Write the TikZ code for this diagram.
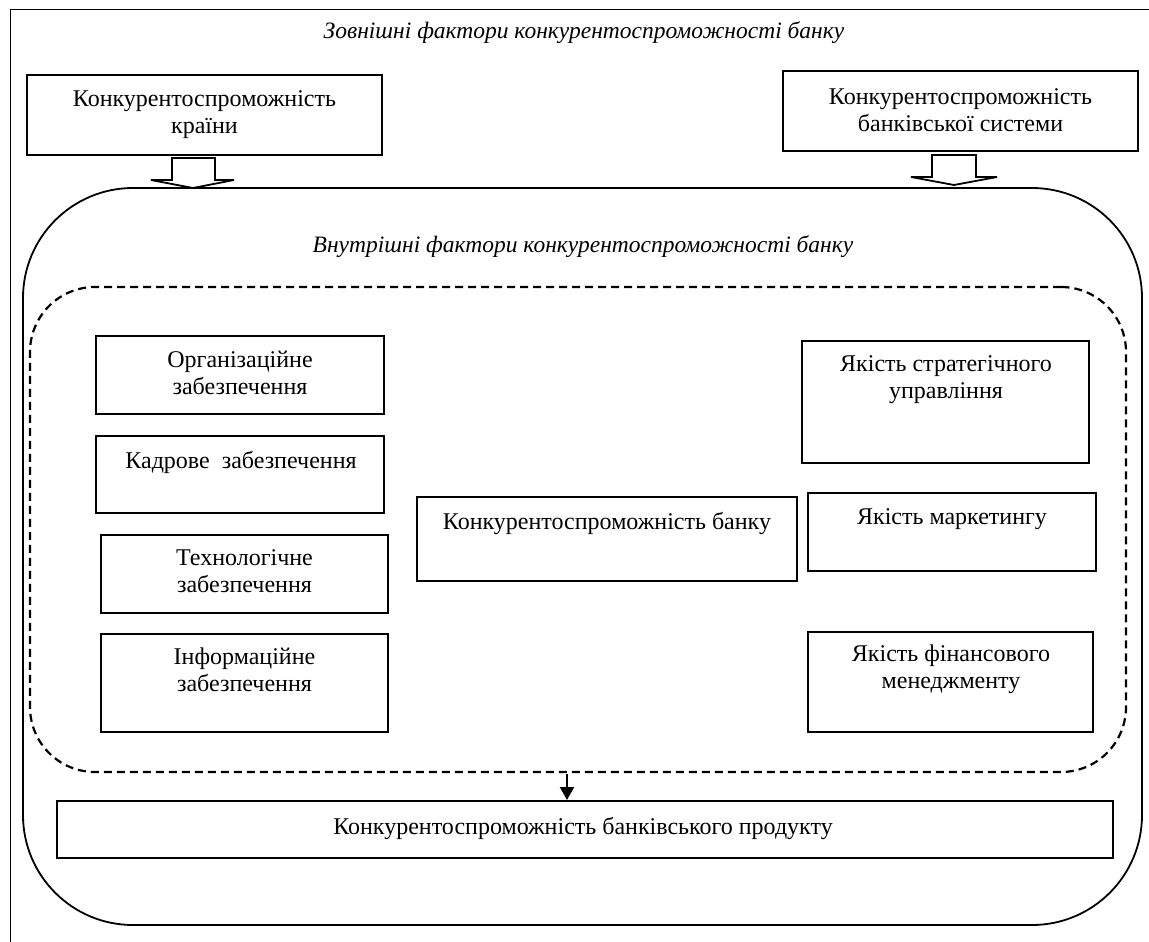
\documentclass[tikz,border=0pt]{standalone}
\usepackage{fontspec}
\setmainfont{Liberation Serif}
\usetikzlibrary{arrows.meta}
\begin{document}
\begin{tikzpicture}[x=1pt,y=-1pt,
  box/.style={draw,line width=2pt,inner sep=0pt,fill=white},
  txt/.style={align=center,font=\fontsize{24}{27}\selectfont,inner sep=0pt},
  ttl/.style={font=\fontsize{23.5}{26}\selectfont\itshape,inner sep=0pt},
  blockarrow/.style={draw,line width=1.8pt,fill=white,line join=miter}]
\useasboundingbox (0,0) rectangle (1149,942);
% outer frame
\draw[line width=1pt] (10,942) -- (10,10) -- (1149,10);
\node[ttl] (extt) at (584,33) {Зовнішні фактори конкурентоспроможності банку};
% external boxes
\node[box,minimum width=355pt,minimum height=80pt] (country) at (204.5,115) {};
\node[txt] (countryt) at (204.5,115) {Конкурентоспроможність\\країни};
\node[box,minimum width=355pt,minimum height=80pt] (system) at (960.5,111) {};
\node[txt] (systemt) at (960.5,110) {Конкурентоспроможність\\банківської системи};
% inner rounded area
\node[draw,line width=1.8pt,rounded corners=110pt,minimum width=1119pt,minimum height=737pt,inner sep=0pt] (inner) at (582.5,556.5) {};
\node[ttl] (intt) at (583,247) {Внутрішні фактори конкурентоспроможності банку};
% block arrows
\draw[blockarrow] (172,158) -- (215,158) -- (215,180) -- (234,180) -- (193,188) -- (151,180) -- (172,180) -- cycle;
\draw[blockarrow] (932,155) -- (976,155) -- (976,177) -- (997,177) -- (954,185) -- (911,177) -- (932,177) -- cycle;
% dashed area
\node[draw,line width=2.2pt,dash pattern=on 8pt off 5pt,rounded corners=65pt,minimum width=1096pt,minimum height=485pt,inner sep=0pt] (dash) at (578,529.5) {};
% left boxes
\node[box,minimum width=288pt,minimum height=78pt] (org) at (240,375) {};
\node[txt] (orgt) at (240,373) {Організаційне\\забезпечення};
\node[box,minimum width=288pt,minimum height=77pt] (kadr) at (240,474.5) {};
\node[txt] (kadrt) at (241,462) {Кадрове\ \ забезпечення};
\node[box,minimum width=287pt,minimum height=78pt] (tech) at (244.5,574) {};
\node[txt] (techt) at (244.5,571) {Технологічне\\забезпечення};
\node[box,minimum width=287pt,minimum height=98pt] (info) at (244.5,683) {};
\node[txt] (infot) at (244.5,670) {Інформаційне\\забезпечення};
% right boxes
\node[box,minimum width=287pt,minimum height=122pt] (strat) at (945.5,402) {};
\node[txt] (stratt) at (946,380) {Якість стратегічного\\управління};
\node[box,minimum width=288pt,minimum height=78pt] (mark) at (952,532) {};
\node[txt] (markt) at (952,519) {Якість маркетингу};
\node[box,minimum width=285pt,minimum height=100pt] (fin) at (950.5,682) {};
\node[txt] (fint) at (951,669) {Якість фінансового\\менеджменту};
% center box
\node[box,minimum width=380pt,minimum height=84pt] (bank) at (607,539) {};
\node[txt] (bankt) at (607,523) {Конкурентоспроможність банку};
% bottom product box
\node[box,minimum width=1056pt,minimum height=57pt] (prod) at (585,829.5) {};
\node[txt] (prodt) at (583,828) {Конкурентоспроможність банківського продукту};
% small arrow
\coordinate (a) at (567,774);
\draw[line width=2.2pt,-{Triangle[length=13pt,width=14pt]}] (a) -- (a |- prod.north);
\end{tikzpicture}
\end{document}
